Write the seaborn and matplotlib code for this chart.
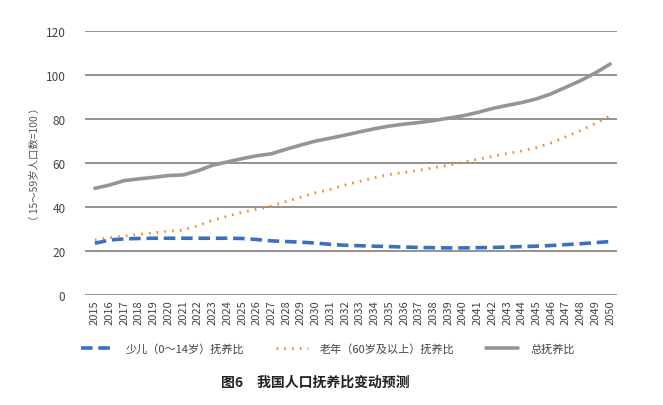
import matplotlib
matplotlib.use("Agg")
import matplotlib.pyplot as plt
import seaborn as sns
import pandas as pd
import numpy as np

years = list(range(2015, 2051))
children = [23.5, 25.0, 25.5, 25.7, 25.8, 25.8, 25.8, 25.8, 25.8, 25.8, 25.7, 25.2,
            24.6, 24.3, 24.0, 23.6, 23.0, 22.6, 22.4, 22.2, 22.0, 21.8, 21.6, 21.5,
            21.4, 21.4, 21.5, 21.6, 21.8, 22.0, 22.2, 22.5, 22.9, 23.3, 23.8, 24.3]
elderly = [25.0, 26.0, 26.8, 27.6, 28.3, 29.0, 29.5, 31.5, 34.0, 35.8, 37.6, 39.0,
           40.5, 42.5, 44.5, 46.5, 48.0, 50.0, 51.7, 53.3, 54.8, 55.7, 56.7, 57.8,
           59.0, 60.3, 61.7, 63.0, 64.3, 65.5, 67.0, 69.2, 72.0, 74.8, 78.0, 81.5]
total = [48.5, 50.0, 52.0, 52.8, 53.5, 54.3, 54.6, 56.5, 59.0, 60.5, 62.0, 63.3,
         64.2, 66.3, 68.2, 70.0, 71.3, 72.7, 74.2, 75.6, 76.8, 77.7, 78.4, 79.3,
         80.4, 81.5, 83.0, 84.8, 86.2, 87.5, 89.2, 91.5, 94.5, 97.5, 101.0, 105.0]
series_names = ["少儿（0～14岁）抚养比", "老年（60岁及以上）抚养比", "总抚养比"]
y_ticks = [0, 20, 40, 60, 80, 100, 120]
y_label = "（ 15～59岁人口数=100 ）"
caption = "图6　我国人口抚养比变动预测"

sns.set_style("white")
plt.rcParams['font.family'] = ['Noto Sans CJK SC', 'DejaVu Sans']

fig = plt.figure(figsize=(6.63, 4.06), dpi=100)
ax = fig.add_axes([0.128, 0.271, 0.803, 0.650])

pos = np.arange(len(years))
df = pd.DataFrame({"x": pos, "children": children, "elderly": elderly, "total": total})

sns.lineplot(data=df, x="x", y="children", ax=ax, color="#3a70c3", lw=2.6,
             linestyle=(0, (3.2, 1.6)), label=series_names[0], zorder=4)
sns.lineplot(data=df, x="x", y="elderly", ax=ax, color="#f08a1c", lw=2.0,
             linestyle=(0, (0.6, 2.2)), label=series_names[1], zorder=4)
sns.lineplot(data=df, x="x", y="total", ax=ax, color="#959595", lw=2.6,
             label=series_names[2], zorder=3)

ax.set_xlim(-0.68, 35.48)
ax.set_ylim(0, 120)
ax.set_yticks(y_ticks)
ax.set_xticks(pos)
ax.set_xticklabels([str(y) for y in years], rotation=90, fontsize=8, color="#444444")
ax.tick_params(axis='y', labelsize=8.5, colors="#444444", length=0, pad=14)
ax.tick_params(axis='x', length=0, pad=3)
for v in y_ticks:
    ax.axhline(v, color="#8a8a8a", lw=1.3, zorder=1)
for s in ax.spines.values():
    s.set_visible(False)
ax.set_xlabel("")
ax.set_ylabel(y_label, fontsize=7.5, color="#555555", labelpad=4)

ax.legend(loc="center", bbox_to_anchor=(0.495, 0.14), bbox_transform=fig.transFigure,
          ncol=3, frameon=False, fontsize=8, handlelength=2.9, columnspacing=2.8,
          handletextpad=1.1, labelcolor="#444444")

fig.text(0.475, 0.057, caption, ha="center", va="center", fontsize=10,
         fontweight="bold", color="#222222")

fig.savefig("out.png", dpi=100)
